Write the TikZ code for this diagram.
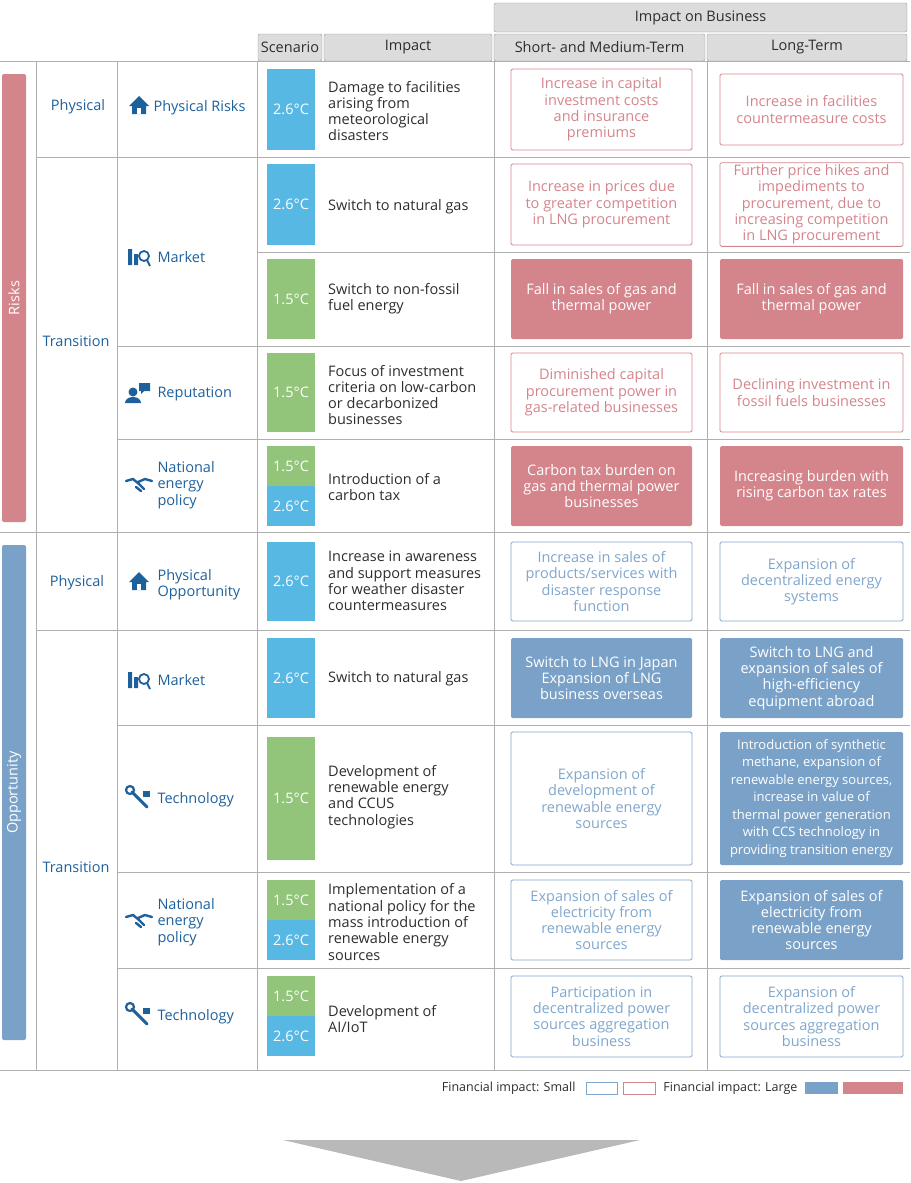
\documentclass[tikz,border=0pt]{standalone}
\usepackage{fontspec}
\setmainfont{Open Sans}
\usetikzlibrary{positioning}
\definecolor{gridcol}{RGB}{176,176,176}
\definecolor{headcol}{RGB}{220,220,220}
\definecolor{riskcol}{RGB}{212,132,139}
\definecolor{oppcol}{RGB}{122,162,200}
\definecolor{bluesmall}{RGB}{128,166,204}
\definecolor{twosix}{RGB}{88,184,228}
\definecolor{onefive}{RGB}{146,196,122}
\definecolor{catcol}{RGB}{30,96,156}
\definecolor{txtcol}{RGB}{45,45,45}
\begin{document}
\begin{tikzpicture}[
			x=1pt, y=-1pt,
			font=\fontsize{14.5}{16.3}\selectfont,
			gridline/.style={draw=gridcol, line width=0.8pt},
			headbox/.style={
				draw=gray!80, fill=headcol,
				rounded corners=2pt,
				text=txtcol,
				inner sep=0pt
			},
			catlabel/.style={text=catcol, align=left},
			impactlabel/.style={
				text=txtcol, anchor=west, align=left, inner sep=0pt
			},
			scenbox/.style={
				minimum width=48pt, text=white, inner sep=0pt
			},
			hot/.style={scenbox, fill=twosix},
			cool/.style={scenbox, fill=onefive},
			impbox/.style={
				rounded corners=1.5pt, align=center,
				minimum width=181pt, inner sep=2pt
			},
			smallred/.style={impbox, draw=riskcol, line width=0.8pt, text=riskcol},
			bigred/.style={impbox, fill=riskcol, text=white},
			smallblue/.style={impbox, draw=bluesmall, line width=0.8pt, text=bluesmall},
			bigblue/.style={impbox, fill=oppcol, text=white},
			sidebar/.style={rounded corners=2pt, minimum width=24pt, text=white}
			]
			\useasboundingbox (0,0) rectangle (910,1183);

			% header
			\node[headbox, minimum width=413pt, minimum height=29pt] (busi) at (700.5,17.5) {Impact on Business};
			\node[headbox, minimum width=64pt, minimum height=27pt] (scen) at (290,47.5) {Scenario};
			\node[headbox, minimum width=168pt, minimum height=27pt] (impt) at (408,47.5) {Impact};
			\node[headbox, minimum width=211pt, minimum height=27pt] (shrt) at (599.5,47.5) {Short- and Medium-Term};
			\node[headbox, minimum width=200pt, minimum height=27pt] (lngt) at (807,47.5) {Long-Term};

			% grid
			\draw[gridline] (0,61) -- (910,61);
			\draw[gridline] (36,157) -- (910,157);
			\draw[gridline] (257,252) -- (910,252);
			\draw[gridline] (117,346) -- (910,346);
			\draw[gridline] (117,439) -- (910,439);
			\draw[gridline] (0,532) -- (910,532);
			\draw[gridline] (36,630) -- (910,630);
			\draw[gridline] (117,725) -- (910,725);
			\draw[gridline] (117,872) -- (910,872);
			\draw[gridline] (117,968) -- (910,968);
			\draw[gridline] (0,1070) -- (910,1070);
			\foreach \gx in {36,117,257,494,707}
				\draw[gridline] (\gx,61) -- (\gx,1070);

			% side bars
			\node[sidebar, fill=riskcol, minimum height=448pt] (risks) at (14,298) {};
			\node[rotate=90, text=white] at (risks) {Risks};
			\node[sidebar, fill=oppcol, minimum height=495pt] (opps) at (14,792.5) {};
			\node[rotate=90, text=white] at (opps) {Opportunity};

			% categories
			\node[catlabel] (cp1) at (78,107) {Physical};
			\node[catlabel] (ct1) at (76,341) {Transition};
			\node[catlabel] (cp2) at (77,583) {Physical};
			\node[catlabel] (ct2) at (76,867) {Transition};

			% icons
			\tikzset{
				house/.pic={\fill[catcol] (-10,1) -- (0,-9) -- (10,1) -- (7,1) -- (7,9) -- (-7,9) -- (-7,1) -- cycle;
					\fill[white] (-2,3) rectangle (2,9);},
				chart/.pic={\fill[catcol] (-11,9) rectangle (-7,-7) (-5,9) rectangle (-1,-2);
					\draw[catcol, line width=1.8pt] (5,0) circle (5pt) (8,4) -- (11,10);},
				person/.pic={\fill[catcol] (-4,-1) circle (4.5pt) (-12,10) .. controls (-12,2) and (4,2) .. (4,10) -- cycle;
					\fill[catcol] (2,-10) rectangle (13,-2) (4,-2) -- (4,1) -- (7,-2) -- cycle;},
				shake/.pic={\draw[catcol, line width=2.4pt, line cap=round] (-13,-3) -- (-6,-5) -- (0,0) -- (5,5) (13,-3) -- (6,-5) -- (-1,-2) (-3,3) -- (2,7);},
				wrench/.pic={\draw[catcol, line width=3pt, line cap=round] (-7,-7) -- (8,8);
					\draw[catcol, line width=2.2pt] (-9,-9) circle (4pt);
					\fill[catcol] (4,-8) rectangle (11,-2);}
			}
			\pic at (139,105) {house};
			\node[catlabel, anchor=west] (sr1) at (150,108) {Physical Risks};
			\pic at (139,256) {chart};
			\node[catlabel, anchor=west] (sr2) at (154,257) {Market};
			\pic at (137,393) {person};
			\node[catlabel, anchor=west] (sr3) at (154,394) {Reputation};
			\pic at (139,484) {shake};
			\node[catlabel, anchor=west] (sr4) at (154,485) {National\\energy\\policy};
			\pic at (139,581) {house};
			\node[catlabel, anchor=west] (so1) at (154,585) {Physical\\Opportunity};
			\pic at (139,679) {chart};
			\node[catlabel, anchor=west] (so2) at (154,680) {Market};
			\pic at (139,799) {wrench};
			\node[catlabel, anchor=west] (so3) at (154,800) {Technology};
			\pic at (139,920) {shake};
			\node[catlabel, anchor=west] (so4) at (154,922) {National\\energy\\policy};
			\pic at (139,1016) {wrench};
			\node[catlabel, anchor=west] (so5) at (154,1017) {Technology};

			% scenarios
			\node[hot, minimum height=81pt] (sc1) at (291,109.5) {2.6°C};
			\node[hot, minimum height=81pt] (sc2) at (291,204.5) {2.6°C};
			\node[cool, minimum height=80pt] (sc3) at (291,299) {1.5°C};
			\node[cool, minimum height=79pt] (sc4) at (291,392.5) {1.5°C};
			\node[cool, minimum height=40pt] (sc5a) at (291,466) {1.5°C};
			\node[hot, minimum height=40pt] (sc5b) at (291,506) {2.6°C};
			\node[hot, minimum height=79pt] (so1s) at (291,581.5) {2.6°C};
			\node[hot, minimum height=80pt] (so2s) at (291,678) {2.6°C};
			\node[cool, minimum height=123pt] (so3s) at (291,798.5) {1.5°C};
			\node[cool, minimum height=40pt] (so4a) at (291,900) {1.5°C};
			\node[hot, minimum height=40pt] (so4b) at (291,940) {2.6°C};
			\node[cool, minimum height=40pt] (so5a) at (291,996) {1.5°C};
			\node[hot, minimum height=40pt] (so5b) at (291,1036) {2.6°C};

			% impacts
			\node[impactlabel] (i1) at (328,111) {Damage to facilities\\arising from\\meteorological\\disasters};
			\node[impactlabel] (i2) at (328,207) {Switch to natural gas};
			\node[impactlabel] (i3) at (328,299) {Switch to non-fossil\\fuel energy};
			\node[impactlabel] (i4) at (328,395) {Focus of investment\\criteria on low-carbon\\or decarbonized\\businesses};
			\node[impactlabel] (i5) at (328,487) {Introduction of a\\carbon tax};
			\node[impactlabel] (i6) at (328,581) {Increase in awareness\\and support measures\\for weather disaster\\countermeasures};
			\node[impactlabel] (i7) at (328,679) {Switch to natural gas};
			\node[impactlabel] (i8) at (328,797) {Development of\\renewable energy\\and CCUS\\technologies};
			\node[impactlabel] (i9) at (328,922) {Implementation of a\\national policy for the\\mass introduction of\\renewable energy\\sources};
			\node[impactlabel] (i10) at (328,1019) {Development of\\AI/IoT};

			% short- and medium-term
			\node[smallred, minimum height=81pt] (s1) at (601.5,109.5) {Increase in capital\\investment costs\\and insurance\\premiums};
			\node[smallred, minimum height=81pt] (s2) at (601.5,204.5) {Increase in prices due\\to greater competition\\in LNG procurement};
			\node[bigred, minimum height=80pt] (s3) at (601.5,299) {Fall in sales of gas and\\thermal power};
			\node[smallred, minimum height=79pt] (s4) at (601.5,392.5) {Diminished capital\\procurement power in\\gas-related businesses};
			\node[bigred, minimum height=80pt] (s5) at (601.5,486) {Carbon tax burden on\\gas and thermal power\\businesses};
			\node[smallblue, minimum height=79pt] (s6) at (601.5,581.5) {Increase in sales of\\products/services with\\disaster response\\function};
			\node[bigblue, minimum height=80pt] (s7) at (601.5,678) {Switch to LNG in Japan\\Expansion of LNG\\business overseas};
			\node[smallblue, minimum height=133pt] (s8) at (601.5,798.5) {Expansion of\\development of\\renewable energy\\sources};
			\node[smallblue, minimum height=80pt] (s9) at (601.5,920) {Expansion of sales of\\electricity from\\renewable energy\\sources};
			\node[smallblue, minimum height=81pt] (s10) at (601.5,1016.5) {Participation in\\decentralized power\\sources aggregation\\business};

			% long-term
			\node[smallred, minimum width=183pt, minimum height=71pt] (l1) at (811.5,109.5) {Increase in facilities\\countermeasure costs};
			\node[smallred, minimum width=183pt, minimum height=81pt] (l2) at (811.5,204.5) {Further price hikes and\\impediments to\\procurement, due to\\increasing competition\\in LNG procurement};
			\node[bigred, minimum width=183pt, minimum height=80pt] (l3) at (811.5,299) {Fall in sales of gas and\\thermal power};
			\node[smallred, minimum width=183pt, minimum height=79pt] (l4) at (811.5,392.5) {Declining investment in\\fossil fuels businesses};
			\node[bigred, minimum width=183pt, minimum height=80pt] (l5) at (811.5,486) {Increasing burden with\\rising carbon tax rates};
			\node[smallblue, minimum width=183pt, minimum height=79pt] (l6) at (811.5,581.5) {Expansion of\\decentralized energy\\systems};
			\node[bigblue, minimum width=183pt, minimum height=80pt] (l7) at (811.5,678) {Switch to LNG and\\expansion of sales of\\high-efficiency\\equipment abroad};
			\node[bigblue, minimum width=183pt, minimum height=133pt, font=\fontsize{13}{17.5}\selectfont] (l8) at (811.5,798.5) {Introduction of synthetic\\methane, expansion of\\renewable energy sources,\\increase in value of\\thermal power generation\\with CCS technology in\\providing transition energy};
			\node[bigblue, minimum width=183pt, minimum height=80pt] (l9) at (811.5,920) {Expansion of sales of\\electricity from\\renewable energy\\sources};
			\node[smallblue, minimum width=183pt, minimum height=81pt] (l10) at (811.5,1016.5) {Expansion of\\decentralized power\\sources aggregation\\business};

			% legend
			\node[anchor=east, text=txtcol, font=\fontsize{12.5}{14}\selectfont] (lgs) at (579,1088) {Financial impact: Small};
			\draw[draw=bluesmall, line width=0.8pt] (586,1082) rectangle (617,1094);
			\draw[draw=riskcol, line width=0.8pt] (623,1082) rectangle (655,1094);
			\node[anchor=east, text=txtcol, font=\fontsize{12.5}{14}\selectfont] (lgl) at (801,1088) {Financial impact: Large};
			\fill[oppcol] (805,1082) rectangle (838,1094);
			\fill[riskcol] (843,1082) rectangle (903,1094);

			% arrow
			\fill[gray!55] (283,1140) -- (640,1140) -- (461,1181) -- cycle;
		\end{tikzpicture}
\end{document}
